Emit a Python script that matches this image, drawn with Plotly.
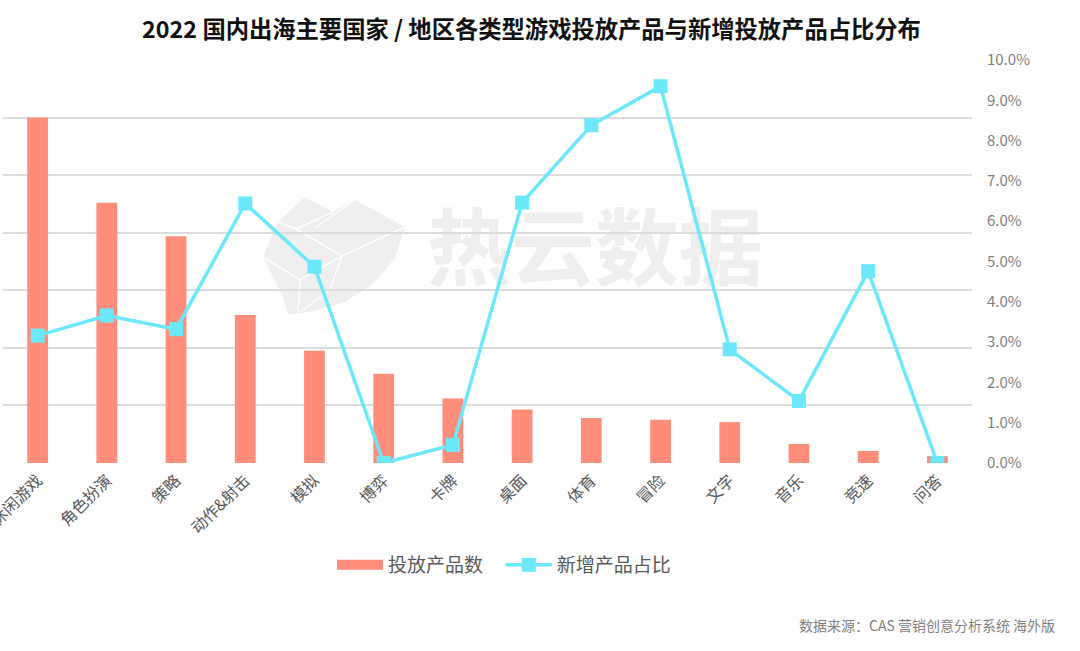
import plotly.graph_objects as go

categories = ["休闲游戏", "角色扮演", "策略", "动作&射击", "模拟", "博弈", "卡牌",
              "桌面", "体育", "冒险", "文字", "音乐", "竞速", "问答"]
bar_values = [6.0, 4.52, 3.94, 2.57, 1.95, 1.55, 1.12, 0.93, 0.78, 0.75, 0.71, 0.33, 0.21, 0.12]
line_values = [3.16, 3.66, 3.32, 6.44, 4.87, 0.0, 0.45, 6.46, 8.38, 9.35, 2.82, 1.54, 4.76, 0.0]
right_ticks = [0, 1, 2, 3, 4, 5, 6, 7, 8, 9, 10]
right_tick_labels = [f"{v:.1f}%" for v in right_ticks]

FONT = "Noto Sans CJK SC"
BAR_COLOR = "#FF8D7A"
LINE_COLOR = "#6BE8FC"

# plot area in pixels
L, R, T, B = 3, 108, 60, 188
W, H = 1080, 651
PW, PH = W - L - R, H - T - B


def px(x):
    return (x - L) / PW


def py(y):
    return (T + PH - y) / PH


fig = go.Figure()
fig.add_trace(go.Bar(
    x=categories, y=bar_values, name="投放产品数",
    marker=dict(color=BAR_COLOR, line=dict(width=0)),
    width=0.3, yaxis="y", showlegend=False,
))
# legend entry for the bars (wide swatch like the original)
fig.add_trace(go.Scatter(
    x=[None], y=[None], name="投放产品数&nbsp;&nbsp;&nbsp;", mode="lines",
    line=dict(color=BAR_COLOR, width=13), yaxis="y", hoverinfo="skip",
))
fig.add_trace(go.Scatter(
    x=categories, y=line_values, name="新增产品占比",
    mode="lines+markers",
    line=dict(color=LINE_COLOR, width=3.5),
    marker=dict(symbol="square", size=14, color=LINE_COLOR),
    yaxis="y2",
))

# watermark logo (approximate outline)
logo_pts = [(278, 222), (305, 197), (333, 212), (355, 200), (405, 227),
            (395, 258), (372, 285), (345, 302), (310, 312), (288, 314),
            (282, 295), (272, 275), (263, 257)]
logo_path = "M " + " L ".join(f"{px(x)},{py(y)}" for x, y in logo_pts) + " Z"
inner_lines = [
    [(263, 257), (300, 280), (342, 256)],
    [(300, 280), (298, 312)],
    [(278, 222), (296, 229), (333, 212)],
    [(296, 229), (342, 256), (405, 227)],
    [(342, 256), (330, 290), (300, 312)],
    [(315, 228), (355, 200)],
]
shapes = [dict(type="path", path=logo_path, xref="paper", yref="paper",
               fillcolor="#EFEFEF", line=dict(width=0), layer="below")]
for seg in inner_lines:
    p = "M " + " L ".join(f"{px(x)},{py(y)}" for x, y in seg)
    shapes.append(dict(type="path", path=p, xref="paper", yref="paper",
                       line=dict(color="white", width=1.5), layer="below"))
shapes.append(dict(type="rect", xref="paper", yref="paper",
                   x0=px(420), x1=px(770), y0=py(300), y1=py(210),
                   line=dict(width=0), fillcolor="rgba(0,0,0,0)", layer="below",
                   label=dict(text="<b>热云数据</b>", font=dict(size=84, color="#EFEFEF", family=FONT),
                              textposition="middle center")))

fig.update_layout(
    width=W, height=H,
    paper_bgcolor="white", plot_bgcolor="white",
    margin=dict(l=L, r=R, t=T, b=B),
    font=dict(family=FONT, color="#595959"),
    title=dict(text="<b>2022 国内出海主要国家 / 地区各类型游戏投放产品与新增投放产品占比分布</b>",
               x=(140 + 923) / 2 / W, xanchor="center", y=1 - 30 / H, yanchor="middle",
               font=dict(size=23.3, color="#111111", family=FONT)),
    xaxis=dict(tickangle=-45, tickfont=dict(size=16, color="#595959"),
               range=[-0.5, len(categories) - 0.5], ticklabelstandoff=4,
               showgrid=False, showline=False, zeroline=False, ticks="",
               automargin=False),
    yaxis=dict(range=[0, 7], dtick=1, showticklabels=False, showgrid=True,
               gridcolor="#DCDCDC", gridwidth=1.5, zeroline=False, automargin=False),
    yaxis2=dict(range=[0, 10], overlaying="y", side="right", tickvals=right_ticks,
                ticktext=right_tick_labels, showgrid=False, zeroline=False,
                tickfont=dict(size=15, color="#7F7F7F"), ticklabelstandoff=14,
                automargin=False),
    legend=dict(orientation="h", x=px(504), xanchor="center", y=py(565), yanchor="middle",
                font=dict(size=19, color="#595959"), itemwidth=46, traceorder="normal"),
    shapes=shapes,
    annotations=[
        dict(text="数据来源：CAS 营销创意分析系统 海外版", x=px(1057), y=py(625),
             xref="paper", yref="paper", showarrow=False, xanchor="right", yanchor="middle",
             font=dict(size=14, color="#7F7F7F", family=FONT)),
    ],
)

fig.write_html("out.html", config={"displayModeBar": False},
               post_script="document.body.style.margin='0';")
